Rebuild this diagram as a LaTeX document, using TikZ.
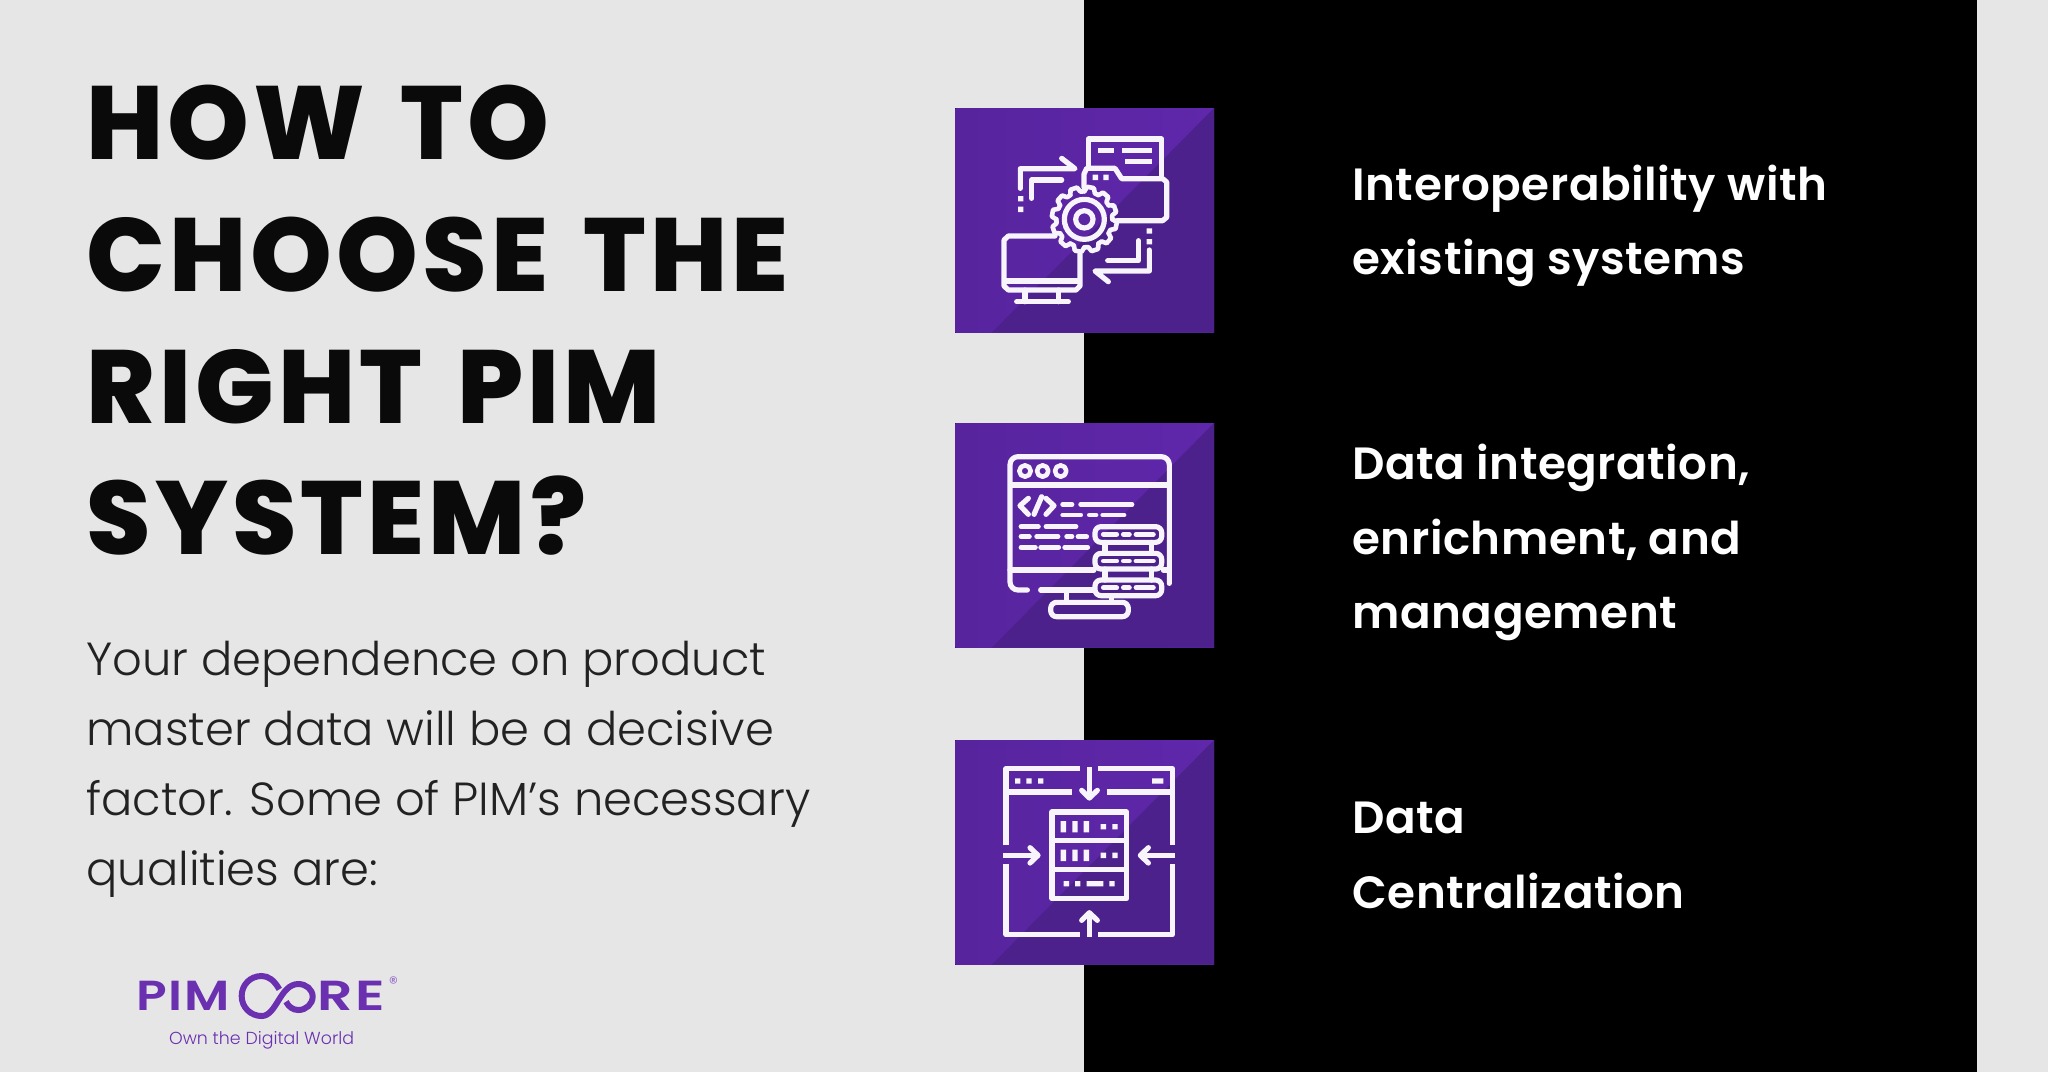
\documentclass[tikz,border=0pt]{standalone}
\usepackage{fontspec}
\setmainfont{Poppins}
\newfontfamily\ttlfont[LetterSpace=4,WordSpace=1.45]{Poppins ExtraBold}
\newfontfamily\lightfont{Poppins Light}
\newfontfamily\medfont[LetterSpace=1.2]{Poppins SemiBold}
\newfontfamily\logofont[LetterSpace=3]{Poppins SemiBold}
\definecolor{pagegray}{HTML}{E6E6E7}
\definecolor{pura}{HTML}{5F27AB}
\definecolor{purb}{HTML}{4C218C}
\definecolor{logop}{HTML}{6A30B0}
\definecolor{ink}{HTML}{0A0A0A}
\tikzset{
  ttl/.style={anchor=base west,inner sep=0pt,font=\ttlfont\fontsize{52}{52}\selectfont,text=ink},
  body/.style={anchor=base west,inner sep=0pt,font=\lightfont\fontsize{23.2}{23.2}\selectfont,text=ink!90},
  feat/.style={anchor=base west,inner sep=0pt,font=\medfont\fontsize{22.6}{22.6}\selectfont,text=white},
  logot/.style={anchor=base west,inner sep=0pt,font=\logofont\fontsize{21}{21}\selectfont,text=logop,transform shape},
  ic/.style={draw=white!95!pura,line width=2.6pt,line cap=round,line join=round},
  sq/.style={fill=white!95!pura},
  thin/.style={ic,line cap=round,line width=2.4pt}
}
\newcommand{\iconbg}{%
  \fill[left color=pura!92!black,right color=pura] (46,24) rectangle (822,698);
  \fill[purb] (822,24) -- (822,698) -- (155,698) -- cycle;
}
\begin{document}
\begin{tikzpicture}[x=0.5pt,y=-0.5pt]
\useasboundingbox (0,0) rectangle (2048,1072);
\fill[pagegray] (0,0) rectangle (2048,1072);
\fill[black] (1084,0) rectangle (1977,1072);

\node[ttl] (t1) at (86,159) {HOW TO};
\node[ttl] (t2) at (86,291) {CHOOSE THE};
\node[ttl] (t3) at (86,423) {RIGHT PIM};
\node[ttl] (t4) at (86,554) {SYSTEM?};

\node[body] (b1) at (86,675) {Your dependence on product};
\node[body] (b2) at (86,745) {master data will be a decisive};
\node[body] (b3) at (86,815) {factor. Some of PIM’s necessary};
\node[body] (b4) at (86,885) {qualities are:};

\node[feat] (f1) at (1352,200) {Interoperability with};
\node[feat] (f2) at (1352,274) {existing systems};
\node[feat] (f3) at (1352,479) {Data integration,};
\node[feat] (f4) at (1352,554) {enrichment, and};
\node[feat] (f5) at (1352,628) {management};
\node[feat] (f6) at (1352,833) {Data};
\node[feat] (f7) at (1352,908) {Centralization};

% icon 1
\begin{scope}[shift={(940,100)},x=0.16667pt,y=-0.16667pt]
\iconbg
\draw[ic] (445,200) -- (445,117) -- (665,117) -- (665,228);
\draw[ic,line cap=butt] (475,151) -- (522,151) (545,151) -- (635,151) (555,185) -- (635,185);
\draw[ic] (432,262) -- (432,222) -- (440,205) -- (525,205) -- (545,236) -- (668,236) -- (680,246) -- (680,352) -- (668,362) -- (530,362);
\fill[sq] (458,224) rectangle (474,240) (490,224) rectangle (506,240);
\foreach \a in {0,30,...,330}{
  \draw[ic,line width=2.3pt] ([shift={(433,358)}]\a:84) -- ([shift={(433,358)}]\a+5:98) -- ([shift={(433,358)}]\a+17:98) -- ([shift={(433,358)}]\a+22:84) -- ([shift={(433,358)}]\a+30:84);
}
\draw[ic] (433,358) circle[radius=60];
\draw[ic] (433,358) circle[radius=26];
\draw[ic] (345,408) -- (205,408) -- (192,420) -- (192,558) -- (205,570) -- (408,570) -- (420,558) -- (420,462);
\draw[ic,line cap=butt] (192,543) -- (420,543);
\draw[ic] (255,570) -- (255,605) (355,570) -- (355,605);
\draw[ic] (230,605) -- (385,605);
\draw[ic] (241,265) -- (241,206) -- (405,206) -- (365,175);
\draw[ic] (365,240) -- (275,240) -- (275,295);
\fill[sq] (234,288) rectangle (250,304) (234,320) rectangle (250,336);
\draw[ic] (628,450) -- (628,513) -- (465,513) -- (505,545);
\draw[ic] (595,422) -- (595,482) -- (503,482);
\fill[sq] (620,385) rectangle (636,401) (620,417) rectangle (636,433);
\end{scope}

% icon 2
\begin{scope}[shift={(940,415)},x=0.16667pt,y=-0.16667pt]
\iconbg
\draw[ic,rounded corners=4pt] (262,525) -- (210,525) -- (210,125) -- (688,125) -- (688,505);
\draw[ic,line cap=butt] (210,210) -- (688,210);
\draw[ic] (210,465) -- (462,465);
\draw[ic] (670,465) -- (688,465);
\draw[ic] (302,525) -- (462,525);
\foreach \x in {255,308,362}{\draw[ic,line width=2.3pt] (\x,168) circle[radius=17];}
\draw[ic] (265,250) -- (240,272) -- (265,298) (282,298) -- (305,245) (318,250) -- (342,272) -- (318,298);
\draw[thin] (368,268) -- (396,268) (422,268) -- (576,268) (368,300) -- (422,300) (448,300) -- (468,300) (488,300) -- (552,300);
\draw[thin] (243,335) -- (295,335) (318,335) -- (408,335) (512,335) -- (572,335) (243,365) -- (268,365) (290,365) -- (354,365) (380,365) -- (396,365) (414,365) -- (440,365) (243,397) -- (286,397) (302,397) -- (356,397) (374,397) -- (443,397);
\foreach \y in {335,415,495}{
  \draw[ic,rounded corners=3pt] (465,\y) rectangle (665,\y+47);
  \draw[thin] (490,\y+23) -- (530,\y+23) (550,\y+23) -- (568,\y+23) (588,\y+23) -- (640,\y+23);
}
\draw[ic] (495,382) -- (495,415) (635,382) -- (635,415) (495,462) -- (495,495) (635,462) -- (635,495);
\draw[ic] (380,525) -- (380,562) (515,542) -- (515,562);
\draw[ic,rounded corners=3pt] (332,562) rectangle (565,605);
\end{scope}

% icon 3
\begin{scope}[shift={(940,732)},x=0.16667pt,y=-0.16667pt]
\iconbg
\draw[ic,line cap=butt] (198,340) -- (198,110) -- (420,110) (475,110) -- (697,110) -- (697,340);
\draw[ic,line cap=butt] (198,395) -- (198,608) -- (420,608) (475,608) -- (697,608) -- (697,395);
\draw[ic,line cap=butt] (198,180) -- (395,180) (500,180) -- (697,180);
\draw[ic,line cap=butt] (448,105) -- (448,195);
\draw[ic] (425,175) -- (448,198) -- (472,175);
\draw[ic,line cap=butt] (190,370) -- (290,370);
\draw[ic] (270,347) -- (294,370) -- (270,393);
\draw[ic,line cap=butt] (705,370) -- (605,370);
\draw[ic] (625,347) -- (601,370) -- (625,393);
\draw[ic,line cap=butt] (448,615) -- (448,545);
\draw[ic] (425,565) -- (448,542) -- (472,565);
\fill[sq] (225,139) rectangle (241,155) (259,139) rectangle (275,155) (294,139) rectangle (310,155) (636,139) rectangle (670,155);
\draw[ic] (336,240) rectangle (560,500);
\draw[ic,line cap=butt] (336,326) -- (560,326) (336,412) -- (560,412);
\foreach \y in {284,370}{
  \fill[sq] (362,\y-17) rectangle (378,\y+17) (397,\y-17) rectangle (413,\y+17) (431,\y-17) rectangle (447,\y+17)
            (482,\y-8) rectangle (498,\y+8) (517,\y-8) rectangle (533,\y+8);
}
\fill[sq] (371,447) rectangle (387,463) (405,447) rectangle (421,463) (440,447) rectangle (490,463) (508,447) rectangle (524,463);
\end{scope}

% logo
\begin{scope}[shift={(120,960)},x=0.16667pt,y=-0.16667pt]
\node[logot,xscale=1.2] (lp) at (48,150) {PIM};
\node[logot,xscale=1.32] (lo) at (592,150) {RE};
\draw[logop,line width=3pt] (478,88) .. controls (462,60) and (445,48) .. (425,48)
  .. controls (390,48) and (365,75) .. (365,108)
  .. controls (365,142) and (392,168) .. (425,168)
  .. controls (470,168) and (480,72) .. (535,72)
  .. controls (558,72) and (578,88) .. (578,110)
  .. controls (578,132) and (558,150) .. (535,150)
  .. controls (518,150) and (506,140) .. (498,125);
\node[inner sep=0pt,font=\fontsize{9}{9}\selectfont,text=logop!70] (lr) at (820,69) {®};
\node[anchor=base west,inner sep=0pt,font=\lightfont\fontsize{8.7}{8.7}\selectfont,text=logop] (lt) at (146,252) {Own the Digital World};
\end{scope}
\end{tikzpicture}
\end{document}
